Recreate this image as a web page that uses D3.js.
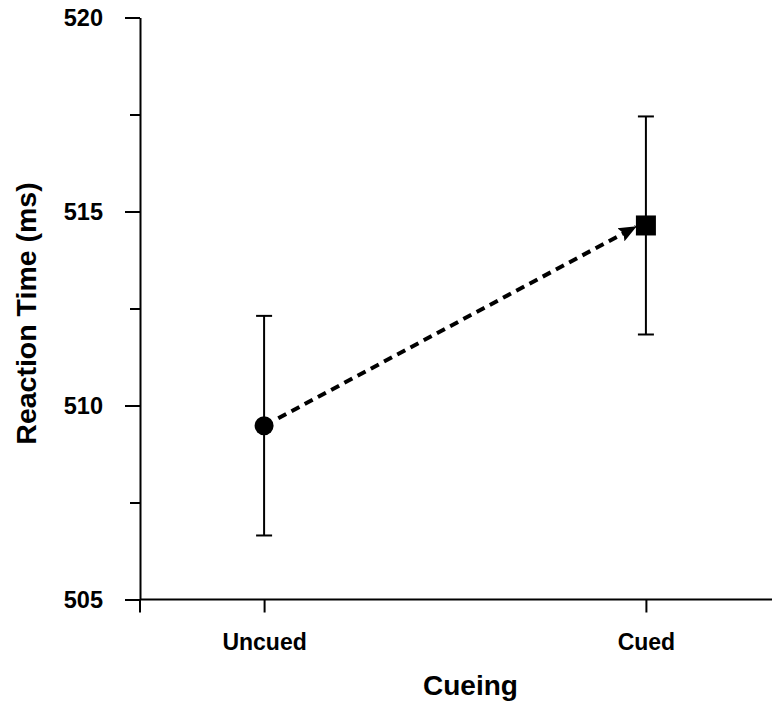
<!DOCTYPE html>
<html>
<head>
<meta charset="utf-8">
<script src="https://cdn.jsdelivr.net/npm/d3@7"></script>
<style>
  body { margin: 0; background: #fff; }
  svg { display: block; }
  text { font-family: "Liberation Sans", Arial, Helvetica, sans-serif; font-weight: bold; fill: #000; }
</style>
</head>
<body>
<svg id="chart" width="773" height="702"></svg>
<script>
// Mean reaction time by cueing condition, with error bars
const categories = ["Uncued", "Cued"];
const means = [509.48, 514.64];
const errors = [2.83, 2.81];
const markers = ["circle", "square"];
const yMajorTicks = [505, 510, 515, 520];
const yMinorTicks = [507.5, 512.5, 517.5];

const svg = d3.select("#chart");
const plotLeft = 140, plotRight = 772, plotTop = 17.5, plotBottom = 599.5;

const y = d3.scaleLinear().domain([505, 520]).range([plotBottom, plotTop]);
const x = d3.scalePoint().domain(categories).range([plotLeft, 770]).padding(0.325);

// Y axis: major and minor ticks
const yAxis = svg.append("g").attr("transform", `translate(${plotLeft},0)`)
  .call(d3.axisLeft(y).tickValues(yMajorTicks).tickSize(15).tickSizeOuter(0).tickPadding(22).tickFormat(d3.format("d")));
yAxis.select(".domain").attr("stroke", "#000").attr("stroke-width", 2);
yAxis.selectAll(".tick line").attr("stroke", "#000").attr("stroke-width", 2);
yAxis.selectAll(".tick text").style("font-size", "23.5px").attr("dy", "0.34em");

const yMinor = svg.append("g").attr("transform", `translate(${plotLeft},0)`)
  .call(d3.axisLeft(y).tickValues(yMinorTicks).tickSize(10).tickFormat(""));
yMinor.select(".domain").remove();
yMinor.selectAll(".tick line").attr("stroke", "#000").attr("stroke-width", 2);

// X axis
const xAxis = svg.append("g").attr("transform", `translate(0,${plotBottom})`)
  .call(d3.axisBottom(x).tickSize(13).tickPadding(21));
xAxis.select(".domain").remove();
xAxis.selectAll(".tick line").attr("stroke", "#000").attr("stroke-width", 2);
xAxis.selectAll(".tick text").style("font-size", "23px");
svg.append("line").attr("x1", plotLeft).attr("x2", plotRight).attr("y1", plotBottom).attr("y2", plotBottom)
  .attr("stroke", "#000").attr("stroke-width", 2);
svg.append("line").attr("x1", plotLeft).attr("x2", plotLeft).attr("y1", plotBottom).attr("y2", plotBottom + 13)
  .attr("stroke", "#000").attr("stroke-width", 2);

// Axis titles
svg.append("text").attr("x", 470.5).attr("y", 695)
  .attr("text-anchor", "middle").style("font-size", "28px").text("Cueing");
svg.append("text").attr("transform", `translate(36,${(plotTop + plotBottom) / 2 + 5}) rotate(-90)`)
  .attr("text-anchor", "middle").style("font-size", "28.5px").text("Reaction Time (ms)");

// Error bars
const capHalf = 8;
categories.forEach((c, i) => {
  const cx = x(c);
  const hi = y(means[i] + errors[i]), lo = y(means[i] - errors[i]);
  const g = svg.append("g").attr("stroke", "#000").attr("stroke-width", 2);
  g.append("line").attr("x1", cx).attr("x2", cx).attr("y1", hi).attr("y2", lo);
  g.append("line").attr("x1", cx - capHalf).attr("x2", cx + capHalf).attr("y1", hi).attr("y2", hi);
  g.append("line").attr("x1", cx - capHalf).attr("x2", cx + capHalf).attr("y1", lo).attr("y2", lo);
});

// Dashed arrow from the uncued mean to the cued mean
svg.append("defs").append("marker")
  .attr("id", "arrowhead").attr("markerUnits", "userSpaceOnUse")
  .attr("viewBox", "0 -8 18 16").attr("refX", 17).attr("refY", 0)
  .attr("markerWidth", 18).attr("markerHeight", 16).attr("orient", "auto")
  .append("path").attr("d", "M0,-7.5L18,0L0,7.5L3,0Z").attr("fill", "#000");

const x0 = x(categories[0]), y0 = y(means[0]);
const x1 = x(categories[1]), y1 = y(means[1]);
const len = Math.hypot(x1 - x0, y1 - y0);
const ux = (x1 - x0) / len, uy = (y1 - y0) / len;
const startOff = 16, endOff = 10 / ux;
svg.append("line")
  .attr("x1", x0 + ux * startOff).attr("y1", y0 + uy * startOff)
  .attr("x2", x1 - ux * endOff).attr("y2", y1 - uy * endOff - 4)
  .attr("stroke", "#000").attr("stroke-width", 4)
  .attr("stroke-dasharray", "9,6")
  .attr("marker-end", "url(#arrowhead)");

// Mean markers
categories.forEach((c, i) => {
  const cx = x(c), cy = y(means[i]);
  if (markers[i] === "circle") {
    svg.append("circle").attr("cx", cx).attr("cy", cy).attr("r", 9.5).attr("fill", "#000");
  } else {
    svg.append("rect").attr("x", cx - 10).attr("y", cy - 10).attr("width", 20).attr("height", 20).attr("fill", "#000");
  }
});
</script>
</body>
</html>
